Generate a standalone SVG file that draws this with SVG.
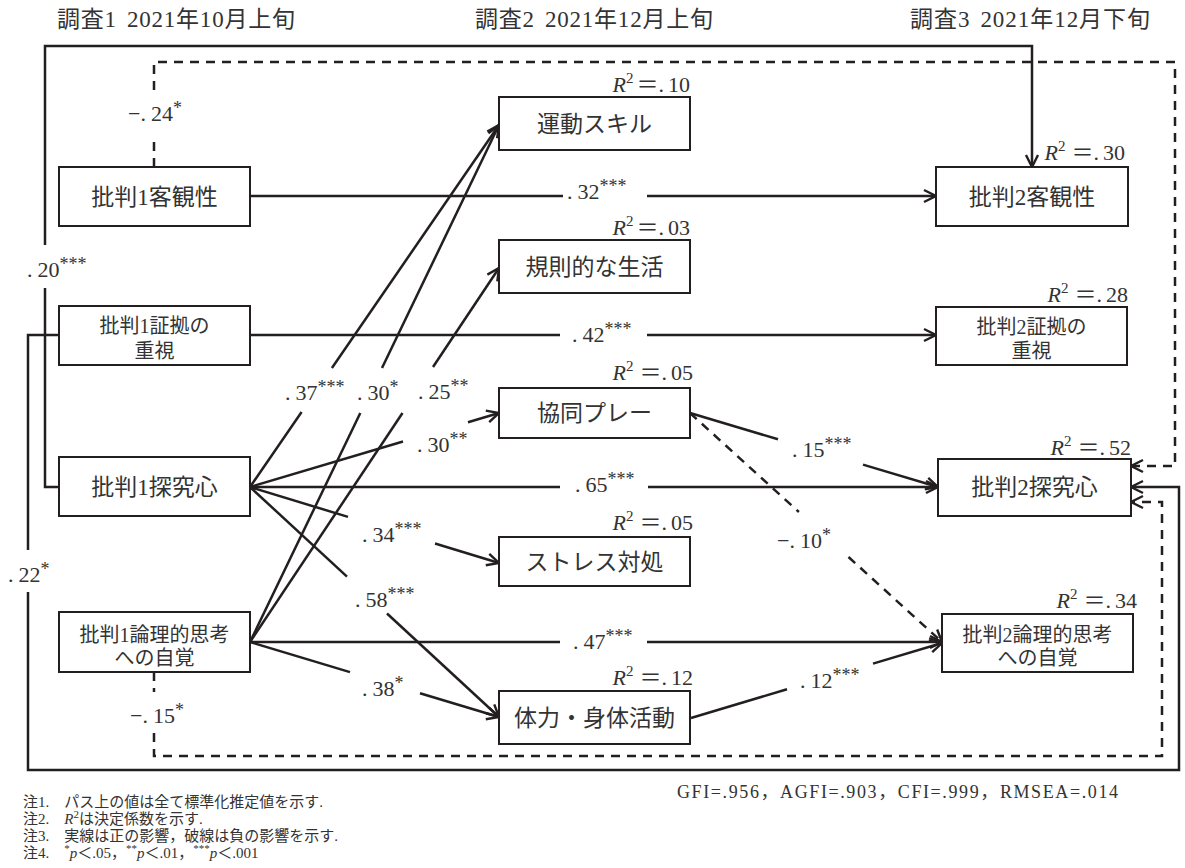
<svg xmlns="http://www.w3.org/2000/svg" width="1185" height="868" viewBox="0 0 1185 868">
<style>
.box{fill:#fff;stroke:#231f20;stroke-width:2}
.ln{fill:none;stroke:#231f20;stroke-width:2.5}
.dash{stroke-dasharray:9 7}
.t{font-family:"Liberation Serif","Noto Sans CJK JP",serif;fill:#333}
.nd{font-size:23px;text-anchor:middle}
.nd2{font-size:20px;text-anchor:middle}
.hd{font-size:23px}
.v{font-size:22px}
.s{font-size:18px}
.r2{font-size:22px;text-anchor:end}
.it{font-style:italic}
.nt{font-size:15px}
.fit{font-size:18px}
</style>
<defs>
<marker id="ah" markerUnits="userSpaceOnUse" markerWidth="18" markerHeight="18" refX="14" refY="8" orient="auto" overflow="visible">
<path d="M2,2 L14,8 L2,14" fill="none" stroke="#231f20" stroke-width="2.4" stroke-dasharray="none"/>
</marker>
</defs>
<rect width="1185" height="868" fill="#fff"/>

<g id="headers" class="t hd">
<text x="57" y="27" textLength="238" lengthAdjust="spacing">調査1<tspan dx="10">2021年10月上旬</tspan></text>
<text x="475" y="27" textLength="238" lengthAdjust="spacing">調査2<tspan dx="10">2021年12月上旬</tspan></text>
<text x="910" y="27" textLength="240" lengthAdjust="spacing">調査3<tspan dx="10">2021年12月下旬</tspan></text>
</g>

<g id="connectors">
<path class="ln" d="M250,196 H563"/><path class="ln" d="M647,196 H936" marker-end="url(#ah)"/>
<path class="ln" d="M250,335 H560"/><path class="ln" d="M647,335 H936" marker-end="url(#ah)"/>
<path class="ln" d="M250,487 H560"/><path class="ln" d="M648,487 H938" marker-end="url(#ah)"/>
<path class="ln" d="M250,642 H560"/><path class="ln" d="M647,642 H942" marker-end="url(#ah)"/>
<path class="ln" d="M250,487 L301.6,412"/><path class="ln" d="M331.9,368 L499,125" marker-end="url(#ah)"/>
<path class="ln" d="M250,642 L360.3,413"/><path class="ln" d="M382,368 L499,125" marker-end="url(#ah)"/>
<path class="ln" d="M250,642 L402.5,413"/><path class="ln" d="M433,367 L499,268" marker-end="url(#ah)"/>
<path class="ln" d="M250,487 L403,441.5"/><path class="ln" d="M468,422.2 L499,413" marker-end="url(#ah)"/>
<path class="ln" d="M250,487 L348,516.9"/><path class="ln" d="M435,543.5 L499,563" marker-end="url(#ah)"/>
<path class="ln" d="M250,487 L347,576.6"/><path class="ln" d="M387,613.5 L499,717" marker-end="url(#ah)"/>
<path class="ln" d="M250,642 L350,672.1"/><path class="ln" d="M420,693.2 L499,717" marker-end="url(#ah)"/>
<path class="ln" d="M690,413 L778,439.3"/><path class="ln" d="M863,464.6 L938,487" marker-end="url(#ah)"/>
<path class="ln dash" d="M690,413 L798.9,512"/><path class="ln dash" d="M848.5,557 L942,642" marker-end="url(#ah)"/>
<path class="ln" d="M691,718 L787,689.3"/><path class="ln" d="M873,663.6 L942,643" marker-end="url(#ah)"/>
<path class="ln" d="M59,487 H45 V288"/><path class="ln" d="M45,245 V46 H1032 V167" marker-end="url(#ah)"/>
<path class="ln" d="M59,335 H28 V550"/><path class="ln" d="M28,592 V770 H1179 V487 H1131" marker-end="url(#ah)"/>
<path class="ln dash" d="M154,167 V140"/><path class="ln dash" d="M154,90 V62 H1175 V466 H1131" marker-end="url(#ah)"/>
<path class="ln dash" d="M154,672 V692"/><path class="ln dash" d="M154,733 V756 H1162 V502 H1131" marker-end="url(#ah)"/>
</g>

<g id="labels" class="t v">
<text x="567" y="199">.<tspan dx="5">32</tspan><tspan class="s" dy="-7">***</tspan></text>
<text x="572" y="342">.<tspan dx="5">42</tspan><tspan class="s" dy="-7">***</tspan></text>
<text x="575" y="492">.<tspan dx="5">65</tspan><tspan class="s" dy="-7">***</tspan></text>
<text x="573" y="649">.<tspan dx="5">47</tspan><tspan class="s" dy="-7">***</tspan></text>
<text x="285" y="400">.<tspan dx="5">37</tspan><tspan class="s" dy="-7">***</tspan></text>
<text x="357" y="400">.<tspan dx="5">30</tspan><tspan class="s" dy="-7">*</tspan></text>
<text x="418" y="399">.<tspan dx="5">25</tspan><tspan class="s" dy="-7">**</tspan></text>
<text x="417" y="452">.<tspan dx="5">30</tspan><tspan class="s" dy="-7">**</tspan></text>
<text x="362" y="542">.<tspan dx="5">34</tspan><tspan class="s" dy="-7">***</tspan></text>
<text x="355" y="607">.<tspan dx="5">58</tspan><tspan class="s" dy="-7">***</tspan></text>
<text x="362" y="696">.<tspan dx="5">38</tspan><tspan class="s" dy="-7">*</tspan></text>
<text x="800" y="688">.<tspan dx="5">12</tspan><tspan class="s" dy="-7">***</tspan></text>
<text x="792" y="457">.<tspan dx="5">15</tspan><tspan class="s" dy="-7">***</tspan></text>
<text x="777" y="548">−.<tspan dx="5">10</tspan><tspan class="s" dy="-7">*</tspan></text>
<text x="128" y="121">−.<tspan dx="5">24</tspan><tspan class="s" dy="-7">*</tspan></text>
<text x="130" y="723">−.<tspan dx="5">15</tspan><tspan class="s" dy="-7">*</tspan></text>
<text x="27" y="277">.<tspan dx="5">20</tspan><tspan class="s" dy="-7">***</tspan></text>
<text x="8" y="582">.<tspan dx="5">22</tspan><tspan class="s" dy="-7">*</tspan></text>
</g>

<g id="r2" class="t r2">
<text x="690" y="92"><tspan class="it">R</tspan><tspan font-size="15" dy="-9">2</tspan><tspan dy="9" dx="3">＝.</tspan><tspan dx="4">10</tspan></text>
<text x="690" y="235"><tspan class="it">R</tspan><tspan font-size="15" dy="-9">2</tspan><tspan dy="9" dx="3">＝.</tspan><tspan dx="4">03</tspan></text>
<text x="693" y="380"><tspan class="it">R</tspan><tspan font-size="15" dy="-9">2</tspan><tspan dy="9" dx="6">＝.</tspan><tspan dx="4">05</tspan></text>
<text x="693" y="530"><tspan class="it">R</tspan><tspan font-size="15" dy="-9">2</tspan><tspan dy="9" dx="6">＝.</tspan><tspan dx="4">05</tspan></text>
<text x="693" y="685"><tspan class="it">R</tspan><tspan font-size="15" dy="-9">2</tspan><tspan dy="9" dx="6">＝.</tspan><tspan dx="4">12</tspan></text>
<text x="1125" y="160"><tspan class="it">R</tspan><tspan font-size="15" dy="-9">2</tspan><tspan dy="9" dx="6">＝.</tspan><tspan dx="4">30</tspan></text>
<text x="1128" y="302"><tspan class="it">R</tspan><tspan font-size="15" dy="-9">2</tspan><tspan dy="9" dx="6">＝.</tspan><tspan dx="4">28</tspan></text>
<text x="1131" y="455"><tspan class="it">R</tspan><tspan font-size="15" dy="-9">2</tspan><tspan dy="9" dx="6">＝.</tspan><tspan dx="4">52</tspan></text>
<text x="1137" y="608"><tspan class="it">R</tspan><tspan font-size="15" dy="-9">2</tspan><tspan dy="9" dx="6">＝.</tspan><tspan dx="4">34</tspan></text>
</g>

<g id="n_k1_objectivity"><rect class="box" x="59" y="167" width="191" height="59"/><text class="t nd" x="154.5" y="205">批判1客観性</text></g>
<g id="n_k1_evidence"><rect class="box" x="59" y="306" width="191" height="59"/><text class="t nd2" x="154.5" y="333">批判1証拠の</text><text class="t nd2" x="154.5" y="358">重視</text></g>
<g id="n_k1_inquiry"><rect class="box" x="59" y="457" width="191" height="59"/><text class="t nd" x="154.5" y="495">批判1探究心</text></g>
<g id="n_k1_logic"><rect class="box" x="59" y="612" width="191" height="60"/><text class="t nd2" x="154.5" y="642">批判1論理的思考</text><text class="t nd2" x="154.5" y="665">への自覚</text></g>

<g id="n_motor"><rect class="box" x="499" y="97" width="191" height="53"/><text class="t nd" x="594.5" y="132">運動スキル</text></g>
<g id="n_regular"><rect class="box" x="499" y="240" width="191" height="53"/><text class="t nd" x="594.5" y="275">規則的な生活</text></g>
<g id="n_coop"><rect class="box" x="499" y="388" width="191" height="50"/><text class="t nd" x="594.5" y="421">協同プレー</text></g>
<g id="n_stress"><rect class="box" x="499" y="537" width="191" height="49"/><text class="t nd" x="594.5" y="570">ストレス対処</text></g>
<g id="n_fitness"><rect class="box" x="499" y="691" width="191" height="53"/><text class="t nd" x="594.5" y="726">体力・身体活動</text></g>

<g id="n_k2_objectivity"><rect class="box" x="936" y="167" width="192" height="59"/><text class="t nd" x="1032" y="205">批判2客観性</text></g>
<g id="n_k2_evidence"><rect class="box" x="936" y="307" width="191" height="58"/><text class="t nd2" x="1031.5" y="334">批判2証拠の</text><text class="t nd2" x="1031.5" y="358">重視</text></g>
<g id="n_k2_inquiry"><rect class="box" x="938" y="459" width="193" height="57"/><text class="t nd" x="1034.5" y="495">批判2探究心</text></g>
<g id="n_k2_logic"><rect class="box" x="942" y="614" width="191" height="58"/><text class="t nd2" x="1037.5" y="642">批判2論理的思考</text><text class="t nd2" x="1037.5" y="665">への自覚</text></g>

<g id="notes" class="t nt">
<text x="23" y="807">注1.　パス上の値は全て標準化推定値を示す.</text>
<text x="23" y="824">注2.　<tspan class="it">R</tspan><tspan font-size="11" dy="-6">2</tspan><tspan dy="6">は決定係数を示す.</tspan></text>
<text x="23" y="841">注3.　実線は正の影響，破線は負の影響を示す.</text>
<text x="23" y="858">注4.　<tspan font-size="11" dy="-6">*</tspan><tspan class="it" dy="6">p</tspan>＜.05，<tspan font-size="11" dy="-6">**</tspan><tspan class="it" dy="6">p</tspan>＜.01，<tspan font-size="11" dy="-6">***</tspan><tspan class="it" dy="6">p</tspan>＜.001</text>
</g>
<g id="fit" class="t fit">
<text x="677" y="798" textLength="441" lengthAdjust="spacing">GFI=.956，AGFI=.903，CFI=.999，RMSEA=.014</text>
</g>
</svg>
